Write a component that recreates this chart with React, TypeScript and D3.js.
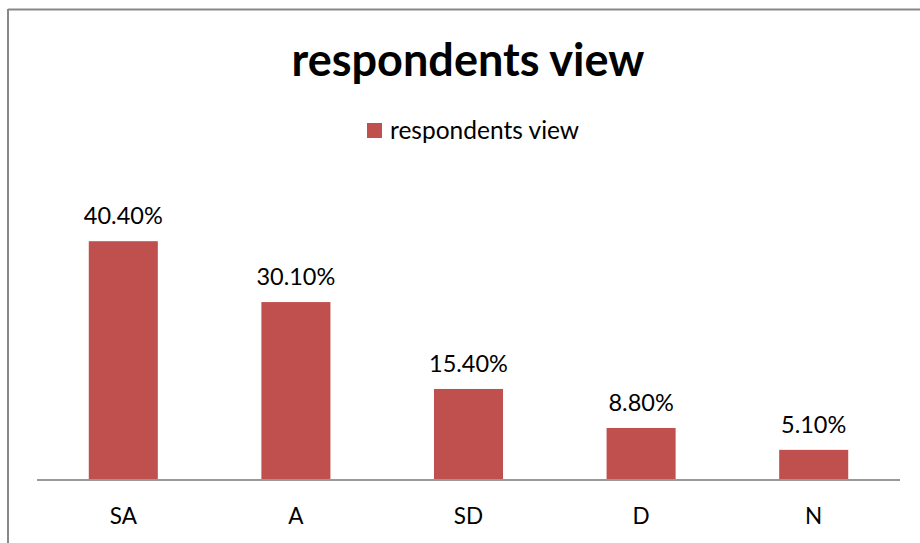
import React from "react";
import * as d3 from "d3";

const categories = ["SA", "A", "SD", "D", "N"];
const values = [40.4, 30.1, 15.4, 8.8, 5.1];
const valueLabels = ["40.40%", "30.10%", "15.40%", "8.80%", "5.10%"];
const title = "respondents view";
const seriesName = "respondents view";

const W = 920;
const H = 543;
const FONT = "Lato, 'Open Sans', sans-serif";

export default function App() {
  const x = d3.scaleBand<string>().domain(categories).range([37, 900]).paddingInner(0.6).paddingOuter(0.3);
  const y = d3.scaleLinear().domain([0, 45]).range([480, 214]);
  return (
    <svg width={W} height={H} style={{ position: "absolute", left: 0, top: 0 }}>
      <rect x={0} y={0} width={W} height={H} fill="#fff" />
      <line x1={8} y1={9.5} x2={W} y2={9.5} stroke="#888" strokeWidth={2} />
      <line x1={8} y1={9} x2={8} y2={H} stroke="#888" strokeWidth={2} />
      <text x={468} y={76} textAnchor="middle" fontFamily={FONT} fontWeight="bold" fontSize={45} fill="#000">
        {title}
      </text>
      <rect x={367} y={123} width={15} height={15} fill="#C0504D" />
      <text x={390} y={139} fontFamily={FONT} fontSize={24.5} fill="#000">{seriesName}</text>
      {categories.map((c, i) => (
        <g key={c}>
          <rect x={x(c)} y={y(values[i])} width={x.bandwidth()} height={y(0) - y(values[i])} fill="#C0504D" />
          <text x={(x(c) as number) + x.bandwidth() / 2} y={y(values[i]) - 17} textAnchor="middle" fontFamily={FONT} fontSize={23.5} fill="#000">
            {valueLabels[i]}
          </text>
          <text x={(x(c) as number) + x.bandwidth() / 2} y={524} textAnchor="middle" fontFamily={FONT} fontSize={22.5} fill="#000">
            {c}
          </text>
        </g>
      ))}
      <line x1={37} y1={480} x2={900} y2={480} stroke="#999" strokeWidth={2} />
    </svg>
  );
}
